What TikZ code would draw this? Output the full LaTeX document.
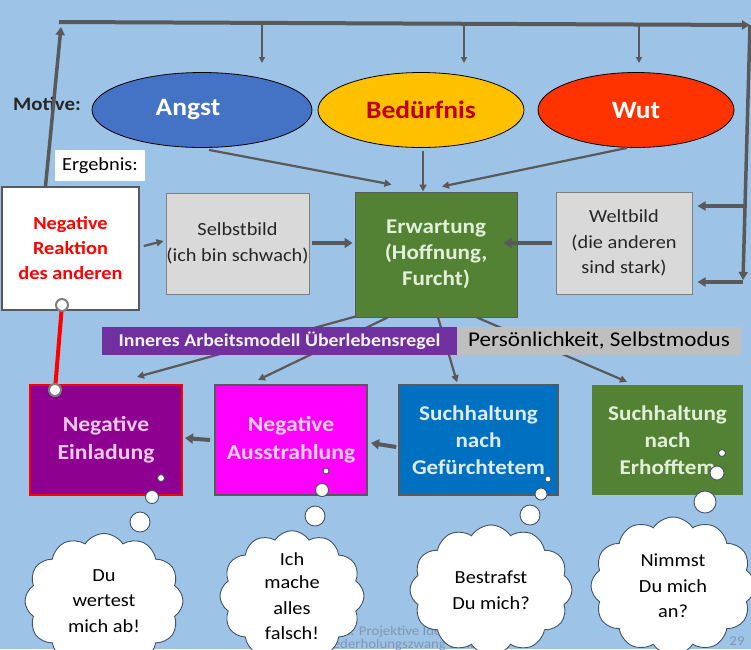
\documentclass[tikz,border=0pt]{standalone}
\usepackage{fontspec}
\setmainfont{Carlito}[FakeStretch=1.1]
\usetikzlibrary{arrows.meta,shapes.geometric,shapes.symbols}
\definecolor{bg}{HTML}{9DC3E6}
\definecolor{cgray}{HTML}{595959}
\definecolor{angstc}{HTML}{4472C4}
\definecolor{bedc}{HTML}{FFC000}
\definecolor{bedt}{HTML}{C00000}
\definecolor{wutc}{HTML}{FF3300}
\definecolor{boxgray}{HTML}{D9D9D9}
\definecolor{boxedge}{HTML}{7F7F7F}
\definecolor{erwc}{HTML}{548235}
\definecolor{erwt}{HTML}{E2F0D9}
\definecolor{purplec}{HTML}{7030A0}
\definecolor{labgray}{HTML}{BFBFBF}
\definecolor{einc}{HTML}{8E0090}
\definecolor{eint}{HTML}{F5C8F0}
\definecolor{ausc}{HTML}{FF00FF}
\definecolor{aust}{HTML}{FAD2FA}
\definecolor{gefc}{HTML}{0070C0}
\definecolor{geft}{HTML}{DDEBF7}
\definecolor{cloudb}{HTML}{41526B}
\definecolor{footc}{HTML}{8296B0}
\definecolor{darkt}{HTML}{262626}
\newcommand{\myfs}[2]{\fontsize{#1}{#2}\selectfont}
\begin{document}
\begin{tikzpicture}[x=1pt,y=-1pt,
  box/.style={rectangle, inner sep=0pt, align=center},
  thinc/.style={draw=cgray, line width=1.6pt, -{Triangle[length=6pt,width=6pt]}},
  midc/.style={draw=cgray, line width=2.2pt, -{Triangle[length=7pt,width=7pt]}},
  thickc/.style={draw=cgray, line width=4pt, -{Triangle[length=8pt,width=10pt]}},
  ell/.style={ellipse, draw=black, line width=0.8pt, minimum height=75pt, inner sep=0pt, font=\bfseries\myfs{25}{28}},
  cloudn/.style={cloud, draw=cloudb, fill=white, line width=0.9pt, cloud puffs=12, cloud puff arc=115, cloud ignores aspect, inner sep=0pt, align=center, font=\myfs{18.5}{25.5}},
  bub/.style={circle, draw=cloudb, fill=white, line width=0.9pt, inner sep=0pt},
  rcirc/.style={circle, draw=boxedge, fill=white, line width=2pt, inner sep=0pt, minimum size=12pt}]
\clip (0,0) rectangle (751,649);
\fill[bg] (0,0) rectangle (751,649);

% footer
\node[anchor=west, text=footc, font=\myfs{13.5}{14}, inner sep=0pt] (f1) at (343,632) {2. Projektive Identifikation};
\node[anchor=west, text=footc, font=\myfs{13.5}{14}, inner sep=0pt] (f2) at (316,645) {Wiederholungszwang DBIBS};
\node[text=footc, font=\myfs{13.5}{14}, inner sep=0pt] (f3) at (737,641) {29};

% frame
\coordinate (tl) at (59,22);
\coordinate (tr) at (750,25);
\coordinate (tlu) at (61,27);
\coordinate (rb) at (743,280);
\coordinate (rb1) at (745,206);
\coordinate (rb2) at (743,282);
\coordinate (t1) at (262,23);
\coordinate (t1e) at (262,63);
\coordinate (t2) at (464,23);
\coordinate (t2e) at (464,63);
\coordinate (t3) at (639,24);
\coordinate (t3e) at (639,63);

% Motive
\node[anchor=west, font=\bfseries\myfs{19}{21}, text=darkt, inner sep=0pt] (motive) at (13,104) {Motive:};

% ellipses
\node[ell, fill=angstc, minimum width=220pt, text=white] (angst) at (202,110) {\raisebox{-3pt}{\hspace*{-28pt}Angst}};
\node[ell, fill=bedc, minimum width=206pt, text=bedt] (bed) at (421,110) {Bedürfnis};
\node[ell, fill=wutc, minimum width=196pt, text=white] (wut) at (636,110) {Wut};

% Ergebnis
\node[box, fill=white, minimum width=90pt, minimum height=31pt, font=\myfs{18.5}{20}] (erg) at (100,165.5) {Ergebnis:};

% middle row
\node[box, fill=white, draw=cgray, line width=1.6pt, minimum width=137pt, minimum height=123pt, text=red, font=\bfseries\myfs{18.5}{25}] (nr) at (70.5,248.5) {Negative\\Reaktion\\des anderen};
\node[box, fill=boxgray, draw=boxedge, line width=1pt, minimum width=143pt, minimum height=101pt, text=darkt, font=\myfs{18.5}{26}] (selbst) at (237.5,243.5) {Selbstbild\\(ich bin schwach)};
\node[box, fill=erwc, draw=cgray, line width=1pt, minimum width=162pt, minimum height=125pt, text=erwt, font=\bfseries\myfs{21}{26}] (erw) at (436,254.5) {Erwartung\\(Hoffnung,\\Furcht)};
\node[box, fill=boxgray, draw=boxedge, line width=1pt, minimum width=136pt, minimum height=102pt, text=darkt, font=\myfs{18.5}{25.5}] (welt) at (624,243) {Weltbild\\(die anderen\\sind stark)};

% lower row
\node[box, fill=einc, draw=red, line width=2pt, minimum width=152pt, minimum height=110pt, text=eint, font=\bfseries\myfs{21.5}{28}] (ein) at (106,440) {Negative\\Einladung};
\node[box, fill=ausc, draw=cgray, line width=2pt, minimum width=152pt, minimum height=110pt, text=aust, font=\bfseries\myfs{21.5}{28}] (aus) at (291,440) {Negative\\Ausstrahlung};
\node[box, fill=gefc, draw=cgray, line width=1.5pt, minimum width=159pt, minimum height=110pt, text=geft, font=\bfseries\myfs{21}{27}] (gef) at (478.5,440) {Suchhaltung\\nach\\Gefürchtetem};
\node[box, fill=erwc, minimum width=151pt, minimum height=110pt, text=erwt, font=\bfseries\myfs{21}{27}] (erh) at (667.5,440) {Suchhaltung\\nach\\Erhofftem};

% frame connectors
\draw[draw=cgray, line width=4pt, -{Triangle[length=8pt,width=9pt]}] (tl) -- (tr);
\draw[draw=cgray, line width=3.5pt, -{Triangle[length=8pt,width=9pt]}] ([xshift=-25pt]nr.north) -- (tlu);
\draw[draw=cgray, line width=3.5pt, -{Triangle[length=8pt,width=9pt]}] (tr) -- (rb);
\draw[draw=cgray, line width=3.5pt, -{Triangle[length=8pt,width=9pt]}] (rb1) -- ([xshift=5pt,yshift=37pt]welt.east);
\draw[draw=cgray, line width=3.5pt, -{Triangle[length=8pt,width=9pt]}] (rb2) -- ([xshift=5pt,yshift=-39pt]welt.east);
\draw[thinc] (t1) -- (t1e);
\draw[thinc] (t2) -- (t2e);
\draw[thinc] (t3) -- (t3e);

% motive to Erwartung
\draw[midc] ([xshift=7pt,yshift=-2pt]angst.south) -- ([xshift=37pt,yshift=7pt]erw.north west);
\draw[midc] ([xshift=2pt,yshift=-3pt]bed.south) -- ([xshift=-13pt]erw.north);
\draw[midc] ([xshift=-9pt]wut.south) -- ([xshift=6pt,yshift=5pt]erw.north);

% middle row connectors
\draw[midc] ([xshift=4pt,yshift=2.5pt]nr.east) -- ([xshift=-2pt,yshift=2.5pt]selbst.west);
\draw[thickc] ([xshift=2pt,yshift=0.5pt]selbst.east) -- ([xshift=-2pt,yshift=11.5pt]erw.west);
\draw[thickc] ([xshift=-4pt]welt.west) -- ([xshift=-14pt,yshift=11.5pt]erw.east);

% Erwartung to lower row
\draw[midc] ([xshift=1pt,yshift=1pt]erw.south west) -- ([xshift=31pt,yshift=7pt]ein.north);
\draw[midc] ([xshift=33pt,yshift=0pt]erw.south west) -- ([xshift=-33pt,yshift=4pt]aus.north);
\draw[midc] ([xshift=2pt,yshift=0pt]erw.south) -- ([xshift=-21.5pt,yshift=2pt]gef.north);
\draw[midc] ([xshift=41pt,yshift=0pt]erw.south) -- ([xshift=-40.5pt,yshift=3pt]erh.north);

% labels
\node[box, fill=purplec, minimum width=355pt, minimum height=28pt, text=white!95!black, font=\bfseries\myfs{18}{20}] (inner) at (279.5,341) {Inneres Arbeitsmodell Überlebensregel};
\node[box, fill=labgray, minimum width=284pt, minimum height=28pt, text=black, font=\myfs{21}{22}] (pers) at (599,341) {Persönlichkeit, Selbstmodus};

% lower row connectors
\draw[thickc] ([xshift=-4pt]aus.west) -- ([xshift=2pt,yshift=2pt]ein.east);
\draw[thickc] ([xshift=-2pt,yshift=-7pt]gef.west) -- ([xshift=3pt,yshift=-3pt]aus.east);

% red link
\coordinate (rc1) at (62,305);
\coordinate (rc2) at (55,390);
\draw[red, line width=4pt] (rc1) -- (rc2);
\node[rcirc] (rcn1) at (rc1) {};
\node[rcirc] (rcn2) at (rc2) {};

% thought bubbles
\node[bub, minimum size=7pt] (b11) at (161,478) {};
\node[bub, minimum size=13pt] (b12) at (152,497) {};
\node[bub, minimum size=20pt] (b13) at (140,522) {};
\node[bub, minimum size=6pt] (b21) at (326,471) {};
\node[bub, minimum size=13pt] (b22) at (322,490) {};
\node[bub, minimum size=20pt] (b23) at (315,516) {};
\node[bub, minimum size=6pt] (b31) at (548,479) {};
\node[bub, minimum size=12pt] (b32) at (541,494) {};
\node[bub, minimum size=20pt] (b33) at (530,515) {};
\node[bub, minimum size=7pt] (b41) at (722,453) {};
\node[bub, minimum size=14pt] (b42) at (717,473) {};
\node[bub, minimum size=22pt] (b43) at (705,502) {};

% clouds
\node[cloudn, minimum width=158pt, minimum height=135pt] (c1) at (104,601) {Du\\wertest\\mich ab!};
\node[cloudn, minimum width=144pt, minimum height=128pt] (c2) at (292,596) {\raisebox{-2pt}{Ich}\\mache\\alles\\falsch!};
\node[cloudn, minimum width=162pt, minimum height=130pt] (c3) at (491,590) {Bestrafst\\Du mich?};
\node[cloudn, minimum width=164pt, minimum height=138pt] (c4) at (673,586) {Nimmst\\Du mich\\an?};
\end{tikzpicture}
\end{document}
